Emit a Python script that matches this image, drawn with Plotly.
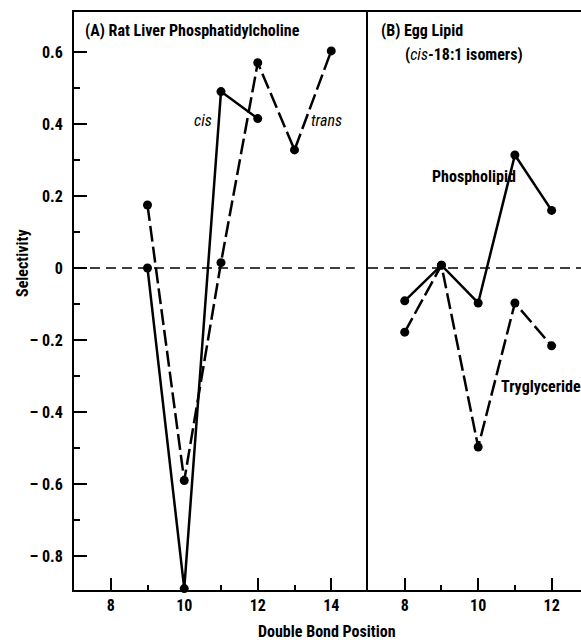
import plotly.graph_objects as go
from plotly.subplots import make_subplots

# Panel A: Rat liver phosphatidylcholine
a_cis_x = [9, 10, 11, 12]
a_cis_y = [0.0, -0.89, 0.49, 0.415]
a_trans_x = [9, 10, 11, 12, 13, 14]
a_trans_y = [0.175, -0.59, 0.015, 0.57, 0.328, 0.603]

# Panel B: Egg lipid (cis-18:1 isomers)
b_phos_x = [8, 9, 10, 11, 12]
b_phos_y = [-0.091, 0.008, -0.097, 0.314, 0.16]
b_tri_x = [8, 9, 10, 11, 12]
b_tri_y = [-0.178, 0.008, -0.497, -0.097, -0.216]

y_tickvals = [0.6, 0.4, 0.2, 0, -0.2, -0.4, -0.6, -0.8]
y_ticktext = ["0.6", "0.4", "0.2", "0", "\u2013 0.2", "\u2013 0.4", "\u2013 0.6", "\u2013 0.8"]
y_minor = [0.5, 0.3, 0.1, -0.1, -0.3, -0.5, -0.7]
x_tickvals_a = [8, 10, 12, 14]
x_tickvals_b = [8, 10, 12]

FONT = "Roboto Condensed, Open Sans Condensed, sans-serif"

fig = make_subplots(rows=1, cols=2, horizontal_spacing=0, column_widths=[294, 213])

solid = dict(color="black", width=2.5)
dashed = dict(color="black", width=2.5, dash="16px,5px")
mk = dict(color="black", size=9)

fig.add_trace(go.Scatter(x=a_cis_x, y=a_cis_y, mode="lines+markers", line=solid,
                         marker=mk, cliponaxis=False, showlegend=False), row=1, col=1)
fig.add_trace(go.Scatter(x=a_trans_x, y=a_trans_y, mode="lines+markers", line=dashed,
                         marker=mk, cliponaxis=False, showlegend=False), row=1, col=1)
fig.add_trace(go.Scatter(x=b_phos_x, y=b_phos_y, mode="lines+markers", line=solid,
                         marker=mk, cliponaxis=False, showlegend=False), row=1, col=2)
fig.add_trace(go.Scatter(x=b_tri_x, y=b_tri_y, mode="lines+markers", line=dashed,
                         marker=mk, cliponaxis=False, showlegend=False), row=1, col=2)

# zero reference lines
fig.add_shape(type="line", xref="x domain", yref="y", x0=0, x1=0.955, y0=0, y1=0,
              line=dict(color="black", width=1.5, dash="10px,6px"), layer="below")
fig.add_shape(type="line", xref="x2 domain", yref="y2", x0=0, x1=1, y0=0, y1=0,
              line=dict(color="black", width=1.5, dash="10px,6px"), layer="below")

yrange = [-0.894, 0.711]
tickfont = dict(family=FONT, size=16, color="black", weight="bold")
common_x = dict(showline=True, linecolor="black", linewidth=2, mirror=True,
                ticks="inside", ticklen=12, tickwidth=1.5, tickcolor="black",
                showgrid=False, zeroline=False, tickfont=tickfont,
                minor=dict(ticks="inside", ticklen=5, tickwidth=1.5, tickcolor="black", dtick=1, tick0=0))
fig.update_xaxes(range=[7, 15], tickvals=x_tickvals_a, row=1, col=1, **common_x)
fig.update_xaxes(range=[7, 12.8], tickvals=x_tickvals_b, row=1, col=2, **common_x)

fig.update_yaxes(range=yrange, showline=True, linecolor="black", linewidth=2, mirror=False,
                 ticks="inside", ticklen=13, tickwidth=1.5, tickcolor="black",
                 tickvals=y_tickvals, ticktext=y_ticktext, showgrid=False, zeroline=False,
                 ticklabelstandoff=6, tickfont=tickfont,
                 minor=dict(ticks="inside", ticklen=6, tickwidth=1.5, tickcolor="black",
                            tickvals=y_minor),
                 row=1, col=1)
fig.update_yaxes(range=yrange, showline=True, linecolor="black", linewidth=2, mirror=False,
                 showticklabels=False, ticks="", showgrid=False, zeroline=False,
                 row=1, col=2)

W, H = 581, 640
ml, mr, mt, mb = 74, 0, 12, 50
pw, ph = W - ml - mr, H - mt - mb

tfont = dict(family=FONT, size=16, color="black")
ann = [
    dict(x=7.245, y=0.661, xref="x", yref="y", text="<b>(A) Rat Liver Phosphatidylcholine</b>",
         xanchor="left", yanchor="middle"),
    dict(x=7.3, y=0.661, xref="x2", yref="y2", text="<b>(B) Egg Lipid</b>",
         xanchor="left", yanchor="middle"),
    dict(x=7.95, y=0.592, xref="x2", yref="y2", text="<b>(</b><i>cis</i><b>-18:1 isomers)</b>",
         xanchor="left", yanchor="middle"),
    dict(x=10.52, y=0.41, xref="x", yref="y", text="<i>cis</i>", xanchor="center", yanchor="middle"),
    dict(x=13.88, y=0.41, xref="x", yref="y", text="<i>trans</i>", xanchor="center", yanchor="middle"),
    dict(x=9.88, y=0.253, xref="x2", yref="y2", text="<b>Phospholipid</b>", xanchor="center", yanchor="middle"),
    dict(x=11.7, y=-0.33, xref="x2", yref="y2", text="<b>Tryglyceride</b>", xanchor="center", yanchor="middle"),
    dict(x=(22 - ml) / pw, y=(H - mb - 263) / ph, xref="paper", yref="paper",
         text="<b>Selectivity</b>", textangle=-90, xanchor="center", yanchor="middle"),
    dict(x=(327 - ml) / pw, y=(H - mb - 631) / ph, xref="paper", yref="paper",
         text="<b>Double Bond Position</b>", xanchor="center", yanchor="middle"),
]
for a in ann:
    a.update(showarrow=False, font=tfont)
    fig.add_annotation(**a)

fig.update_layout(width=W, height=H, margin=dict(l=ml, r=mr, t=mt, b=mb),
                  plot_bgcolor="white", paper_bgcolor="white", showlegend=False)

fig.write_html("out.html")
